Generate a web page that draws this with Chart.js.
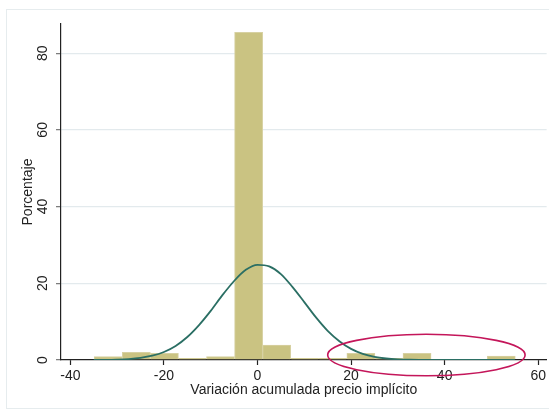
<!DOCTYPE html>
<html>
<head>
<meta charset="utf-8">
<script src="https://cdn.jsdelivr.net/npm/chart.js@4/dist/chart.umd.min.js"></script>
<style>
    body { margin: 0; background: #fff; overflow: hidden; }
    #wrap { position: relative; width: 549px; height: 411px; }
    #frame {
        position: absolute; left: 6px; top: 9px; width: 600px; height: 398px;
        border-left: 1px solid #e6ecee; border-top: 1px solid #e6ecee; border-bottom: 1px solid #e6ecee;
    }
    canvas { position: absolute; left: 0; top: 0; }
</style>
</head>
<body>
<div id="wrap">
    <div id="frame"></div>
    <canvas id="chart" width="549" height="411"></canvas>
</div>
<script>
// histogram bins (centre of each 6-unit bin) and percentages
const binCenters = [-31.9, -25.9, -19.9, -13.9, -7.9, -1.9, 4.1, 10.1, 16.1, 22.1, 28.1, 34.1, 40.1, 46.1, 52.1];
const binPercent = [0.86, 2.0, 1.75, 0.45, 0.86, 85.4, 3.9, 0.45, 0.45, 1.75, 0.45, 1.75, null, null, 1.04];

// normal density overlay
const curveX = [-35, -32.5, -30, -27.5, -25, -22.5, -20, -17.5, -15, -12.5, -10, -7.5, -5, -2.5, 0,
    2.5, 5, 7.5, 10, 12.5, 15, 17.5, 20, 22.5, 25, 27.5, 30, 32.5, 35, 37.5, 40, 42.5, 45, 47.5, 50, 52.5, 55];
const curveY = [0.02, 0.04, 0.11, 0.25, 0.55, 1.11, 2.09, 3.67, 5.99, 9.1, 12.8, 16.9, 20.6, 23.5, 24.8,
    24.4, 22.4, 19.0, 15.1, 11.1, 7.6, 4.9, 2.9, 1.6, 0.81, 0.39, 0.17, 0.07, 0.03, 0.01, 0, 0, 0, 0, 0, 0, 0];

const xTicks = [-40, -20, 0, 20, 40, 60];
const yTicks = [0, 20, 40, 60, 80];
const yTickLabels = ['0', '20', '40', '60', '80'];

const FONT = 'Liberation Sans, Arial, sans-serif';
const TEXT = '#222';

// red ellipse marking the right tail (data units)
const mark = { x: 36.1, y: 1.3, rx: 21.1, ry: 5.4 };

const extras = {
    id: 'extras',
    afterDraw(chart) {
        const { ctx, scales } = chart;
        const x = scales.x, y = scales.y;

        // rotated y tick labels
        ctx.save();
        ctx.fillStyle = TEXT;
        ctx.font = '14px ' + FONT;
        ctx.textAlign = 'center';
        ctx.textBaseline = 'alphabetic';
        yTicks.forEach((v, i) => {
            ctx.save();
            ctx.translate(47, y.getPixelForValue(v));
            ctx.rotate(-Math.PI / 2);
            ctx.fillText(yTickLabels[i], 0, 0);
            ctx.restore();
        });
        ctx.restore();

        // ellipse
        const cx = x.getPixelForValue(mark.x);
        const cy = y.getPixelForValue(mark.y);
        const rx = x.getPixelForValue(mark.x + mark.rx) - cx;
        const ry = cy - y.getPixelForValue(mark.y + mark.ry);
        ctx.save();
        ctx.strokeStyle = '#c4165a';
        ctx.lineWidth = 1.6;
        ctx.beginPath();
        ctx.ellipse(cx, cy, rx, ry, 0, 0, Math.PI * 2);
        ctx.stroke();
        ctx.restore();
    }
};

new Chart(document.getElementById('chart'), {
    type: 'bar',
    data: {
        datasets: [
            {
                type: 'line',
                data: curveX.map((v, i) => ({ x: v, y: curveY[i] })),
                borderColor: '#2b6f64',
                borderWidth: 1.8,
                pointRadius: 0,
                fill: false,
                cubicInterpolationMode: 'monotone'
            },
            {
                type: 'bar',
                data: binCenters.map((v, i) => ({ x: v, y: binPercent[i] })),
                backgroundColor: '#cac382',
                borderColor: '#d7d1a2',
                borderWidth: 1,
                barPercentage: 1,
                categoryPercentage: 1,
                grouped: false
            }
        ]
    },
    options: {
        responsive: false,
        devicePixelRatio: 1,
        animation: false,
        layout: { padding: { top: 24, right: 0, left: 0, bottom: 0 } },
        plugins: {
            legend: { display: false },
            tooltip: { enabled: false }
        },
        scales: {
            x: {
                type: 'linear',
                min: -42,
                max: 61.8,
                offset: false,
                afterFit: s => { s.height = 51; },
                afterBuildTicks: s => { s.ticks = xTicks.map(v => ({ value: v })); },
                grid: {
                    offset: false,
                    drawOnChartArea: false,
                    drawTicks: true,
                    tickLength: 5,
                    tickColor: '#222',
                    tickWidth: 1.2
                },
                border: { color: '#222', width: 1.2 },
                ticks: {
                    color: TEXT,
                    font: { family: FONT, size: 14 },
                    padding: 3,
                    maxRotation: 0,
                    autoSkip: false,
                    callback: v => String(v)
                },
                title: {
                    display: true,
                    text: 'Variación acumulada precio implícito',
                    color: TEXT,
                    font: { family: FONT, size: 14 },
                    padding: { top: 0, bottom: 12 }
                }
            },
            y: {
                min: 0,
                max: 87.6,
                afterFit: s => { s.width = 61; },
                afterBuildTicks: s => { s.ticks = yTicks.map(v => ({ value: v })); },
                grid: {
                    color: c => (c.tick && c.tick.value === 0 ? 'rgba(0,0,0,0)' : '#e3eaed'),
                    lineWidth: 1.3,
                    drawTicks: true,
                    tickLength: 5,
                    tickColor: '#777',
                    tickWidth: 1.2
                },
                border: { color: '#222', width: 1.2 },
                ticks: { display: false },
                title: {
                    display: true,
                    text: 'Porcentaje',
                    color: TEXT,
                    font: { family: FONT, size: 14 },
                    padding: { top: 20, bottom: 0 }
                }
            }
        }
    },
    plugins: [extras]
});
</script>
</body>
</html>
